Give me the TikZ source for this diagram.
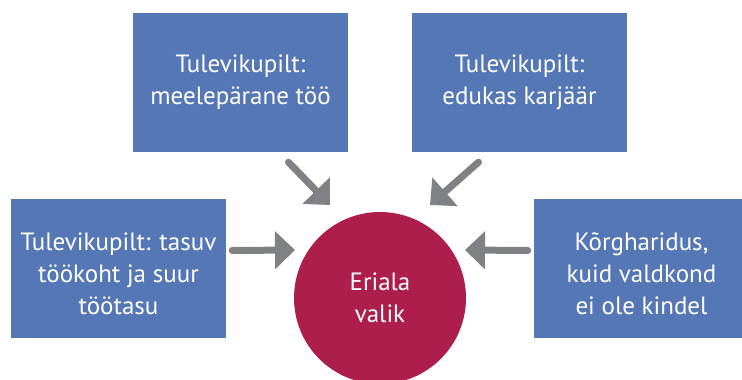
\documentclass[tikz,border=0pt]{standalone}
\usepackage{fontspec}
\setmainfont{PT Sans}
\usetikzlibrary{arrows.meta, positioning}
\definecolor{pildiblue}{RGB}{86, 119, 181}
\definecolor{valikred}{RGB}{173, 30, 74}
\definecolor{noolgray}{RGB}{128, 129, 132}
\newcommand{\pildistrut}{\rule{0pt}{28pt}}
\tikzset{
  pilt/.style={fill=pildiblue, text=white, align=center, minimum width=215pt, minimum height=139pt, inner sep=0pt, font=\fontsize{25}{32}\selectfont},
  valik/.style={circle, fill=valikred, text=white, align=center, minimum size=172pt, inner sep=0pt, font=\fontsize{25}{32}\selectfont},
  arr/.style={-{Triangle[length=20pt, width=37pt]}, line width=7pt, line cap=round, noolgray}
}
\begin{document}
\begin{tikzpicture}[x=1pt, y=-1pt]
                \useasboundingbox (0,0) rectangle (742,380);
                \node[pilt] (meele) at (240.5,82.5) {Tulevikupilt:\\ meelepärane töö};
                \node[pilt] (karjaar) at (519.5,82.5) {Tulevikupilt:\\ edukas karjäär};
                \node[pilt] (tasuv) at (118.5,268.5) {\pildistrut Tulevikupilt: tasuv\\ töökoht ja suur\\ töötasu};
                \node[pilt] (kindel) at (641.5,268.5) {\pildistrut Kõrgharidus,\\ kuid valdkond\\ ei ole kindel};
                \node[valik] (eriala) at (380,298) {Eriala\\ valik};
                % noolte otspunktid
                \coordinate (meele-a) at ([shift={(48,10)}]meele.south);
                \coordinate (meele-b) at ([shift={(-50,-93)}]eriala.center);
                \coordinate (karjaar-a) at ([shift={(-41,10)}]karjaar.south);
                \coordinate (karjaar-b) at ([shift={(50,-93)}]eriala.center);
                \coordinate (tasuv-a) at ([shift={(6,-18)}]tasuv.east);
                \coordinate (tasuv-b) at ([shift={(-85,-48)}]eriala.center);
                \coordinate (kindel-a) at ([shift={(-6,-18)}]kindel.west);
                \coordinate (kindel-b) at ([shift={(85,-48)}]eriala.center);
                \draw[arr] (meele-a) -- (meele-b);
                \draw[arr] (karjaar-a) -- (karjaar-b);
                \draw[arr] (tasuv-a) -- (tasuv-b);
                \draw[arr] (kindel-a) -- (kindel-b);
            \end{tikzpicture}
\end{document}
